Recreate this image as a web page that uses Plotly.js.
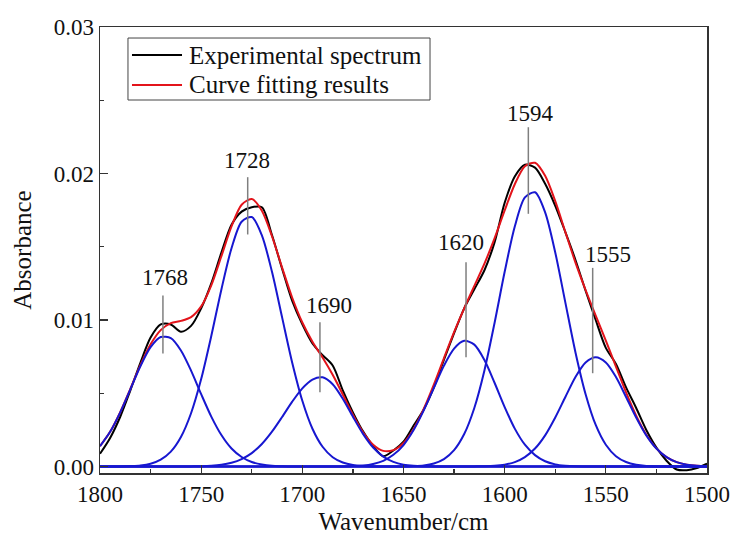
<!DOCTYPE html>
<html>
<head>
<meta charset="utf-8">
<script src="https://cdn.plot.ly/plotly-3.0.1.min.js"></script>
<style>html,body{margin:0;padding:0;background:#fff;}#chart{width:735px;height:539px;}</style>
</head>
<body>
<div id="chart"></div>
<script>
// Wavenumber grid (cm-1)
const wavenumber = [1800,1795,1790,1785,1780,1775,1770,1765,1760,1755,1750,1745,1740,1735,1730,1725,1720,1715,1710,1705,1700,1695,1690,1685,1680,1675,1670,1665,1660,1655,1650,1645,1640,1635,1630,1625,1620,1615,1610,1605,1600,1595,1590,1585,1580,1575,1570,1565,1560,1555,1550,1545,1540,1535,1530,1525,1520,1515,1510,1505,1500];

// Experimental spectrum (black)
const experimental = [0.00087,0.00195,0.0034,0.0052,0.0071,0.0088,0.0097,0.0097,0.0092,0.0096,0.0108,0.0125,0.0146,0.0165,0.0174,0.0177,0.0177,0.0158,0.0135,0.0113,0.0097,0.0084,0.0076,0.0069,0.0052,0.0037,0.0024,0.0014,0.0007,0.0011,0.0017,0.0028,0.0039,0.0054,0.0073,0.0091,0.0108,0.0121,0.0134,0.0153,0.0180,0.0198,0.0206,0.0204,0.0193,0.0178,0.0160,0.0141,0.0120,0.0100,0.0081,0.0070,0.0054,0.0040,0.0025,0.0013,0.0004,-0.0002,-0.00025,-0.0001,0.0002];

// Curve fitting result (red)
const fitted = [0.00139,0.00237,0.00371,0.0053,0.00693,0.00834,0.00931,0.00979,0.00994,0.0102,0.01093,0.01237,0.01436,0.01639,0.01787,0.01826,0.01746,0.01572,0.01358,0.01152,0.00983,0.00852,0.00744,0.00626,0.00492,0.00354,0.00234,0.00149,0.00107,0.00112,0.00161,0.00257,0.00393,0.00559,0.0074,0.00917,0.0108,0.01233,0.01385,0.01557,0.01748,0.01927,0.0205,0.02073,0.01984,0.01811,0.016,0.01392,0.01205,0.0103,0.00859,0.00682,0.00506,0.00347,0.00217,0.00124,0.00064,0.0003,0.00013,0.00005,0.00002];

// Component bands (blue)
const band1768 = [0.00139,0.00237,0.0037,0.00527,0.00686,0.00815,0.00884,0.00876,0.00792,0.00655,0.00494,0.00341,0.00215,0.00123,0.00065,0.00031,0.00014,0.00005,0.00002,0,0,0,0,0,0,0,0,0,0,0,0,0,0,0,0,0,0,0,0,0,0,0,0,0,0,0,0,0,0,0,0,0,0,0,0,0,0,0,0,0,0];
const band1728 = [0,0,0.00001,0.00003,0.00007,0.00019,0.00047,0.00102,0.00202,0.00364,0.00597,0.00891,0.01209,0.0149,0.01671,0.01703,0.01578,0.01329,0.01018,0.00709,0.00449,0.00258,0.00135,0.00064,0.00028,0.00011,0.00004,0.00001,0,0,0,0,0,0,0,0,0,0,0,0,0,0,0,0,0,0,0,0,0,0,0,0,0,0,0,0,0,0,0,0,0];
const band1690 = [0,0,0,0,0,0,0,0,0,0.00001,0.00002,0.00005,0.00012,0.00026,0.00051,0.00092,0.00154,0.00238,0.00338,0.00443,0.00534,0.00594,0.00609,0.00562,0.00463,0.0034,0.00223,0.0013,0.00068,0.00032,0.00013,0.00005,0.00002,0.00001,0,0,0,0,0,0,0,0,0,0,0,0,0,0,0,0,0,0,0,0,0,0,0,0,0,0,0];
const band1620 = [0,0,0,0,0,0,0,0,0,0,0,0,0,0,0,0,0,0,0,0,0,0,0,0,0.00001,0.00003,0.00007,0.00018,0.00039,0.0008,0.00147,0.00249,0.00383,0.00537,0.00689,0.00805,0.00858,0.00832,0.00727,0.00572,0.00406,0.00259,0.00149,0.00078,0.00036,0.00015,0.00006,0.00002,0.00001,0,0,0,0,0,0,0,0,0,0,0,0];
const band1594 = [0,0,0,0,0,0,0,0,0,0,0,0,0,0,0,0,0,0,0,0,0,0,0,0,0,0,0,0,0,0,0.00001,0.00003,0.00008,0.00021,0.00051,0.00112,0.00222,0.004,0.00656,0.0098,0.01329,0.01638,0.01837,0.01872,0.01735,0.01461,0.01119,0.00779,0.00494,0.00284,0.00149,0.00071,0.00031,0.00012,0.00004,0.00001,0,0,0,0,0];
const band1555 = [0,0,0,0,0,0,0,0,0,0,0,0,0,0,0,0,0,0,0,0,0,0,0,0,0,0,0,0,0,0,0,0,0,0,0,0,0,0.00001,0.00002,0.00005,0.00013,0.0003,0.00064,0.00123,0.00213,0.00335,0.00475,0.00611,0.0071,0.00746,0.0071,0.00611,0.00475,0.00335,0.00213,0.00123,0.00064,0.0003,0.00013,0.00005,0.00002];

// Peak labels
const peakLabels = ['1768','1728','1690','1620','1594','1555'];

// Tick labels
const xTickVals = [1800,1750,1700,1650,1600,1550,1500];
const yTickVals = [0.00,0.01,0.02,0.03];
const yTickText = ['0.00','0.01','0.02','0.03'];

const seriesNames = ['Experimental spectrum','Curve fitting results'];

// ---- layout helpers (positions of the label markers) ----
const labelLineX = [1768.9,1727.0,1691.3,1619.1,1588.3,1556.5];
const labelLineTop = [0.01167,0.01975,0.00985,0.01395,0.02316,0.01356];
const labelLineBottom = [0.00771,0.01584,0.00507,0.00746,0.01725,0.00637];
const labelTextX = [1768.1,1727.5,1686.8,1621.6,1587.2,1549.1];
const labelTextY = [0.0129,0.02089,0.01099,0.01531,0.0241,0.01447];

const FONT = 'Liberation Serif, Times New Roman, serif';
const BLUE = '#1717d0';
const RED = '#e3141b';
const BLACK = '#000000';

const bands = [band1768, band1728, band1690, band1620, band1594, band1555];
const traces = [];
traces.push({x: wavenumber, y: experimental, name: seriesNames[0], type: 'scatter', mode: 'lines',
  showlegend: false, line: {color: BLACK, width: 2, shape: 'spline', smoothing: 0.8}});
traces.push({x: wavenumber, y: fitted, name: seriesNames[1], type: 'scatter', mode: 'lines',
  showlegend: false, line: {color: RED, width: 2, shape: 'spline', smoothing: 0.8}});
bands.forEach((b, i) => {
  traces.push({x: wavenumber, y: b, name: 'Band ' + peakLabels[i], type: 'scatter', mode: 'lines',
    showlegend: false, line: {color: BLUE, width: 2, shape: 'spline', smoothing: 0.8}});
});

const shapes = peakLabels.map((t, i) => ({
  type: 'line', xref: 'x', yref: 'y',
  x0: labelLineX[i], x1: labelLineX[i], y0: labelLineBottom[i], y1: labelLineTop[i],
  line: {color: '#7f7f7f', width: 1.5}
}));
const annotations = peakLabels.map((t, i) => ({
  x: labelTextX[i], y: labelTextY[i], xref: 'x', yref: 'y', text: t, showarrow: false,
  xanchor: 'center', yanchor: 'middle', font: {family: FONT, size: 23, color: '#111'}
}));

// Legend box drawn in paper coordinates
const legendBox = {x0: 0.0461, x1: 0.5437, y0: 0.8363, y1: 0.9753};
const legendRowsY = [0.9372, 0.8700];
const legendColors = [BLACK, RED];
shapes.push({type: 'rect', xref: 'paper', yref: 'paper', x0: legendBox.x0, x1: legendBox.x1,
  y0: legendBox.y0, y1: legendBox.y1, line: {color: '#444', width: 1}, fillcolor: '#ffffff'});
seriesNames.forEach((n, i) => {
  shapes.push({type: 'line', xref: 'paper', yref: 'paper', x0: 0.0527, x1: 0.1351,
    y0: legendRowsY[i], y1: legendRowsY[i], line: {color: legendColors[i], width: 2}});
  annotations.push({x: 0.1433, y: legendRowsY[i], xref: 'paper', yref: 'paper', text: n,
    showarrow: false, xanchor: 'left', yanchor: 'middle',
    font: {family: FONT, size: 25, color: '#111'}});
});

const layout = {
  width: 735, height: 539,
  margin: {l: 100, r: 28, t: 27, b: 66, pad: 0},
  paper_bgcolor: '#ffffff', plot_bgcolor: '#ffffff',
  font: {family: FONT, size: 23, color: '#111'},
  showlegend: false,
  xaxis: {
    range: [1800, 1500], tickvals: xTickVals, ticktext: xTickVals.map(String),
    ticks: 'inside', ticklen: 8, tickwidth: 1.2, tickcolor: '#333',
    minor: {ticks: 'inside', ticklen: 4, dtick: 25, tick0: 1500, tickcolor: '#333', tickwidth: 1.2, showgrid: false},
    showline: true, linecolor: '#333', linewidth: 1.5, mirror: true,
    showgrid: false, zeroline: false,
    tickfont: {family: FONT, size: 23, color: '#111'},
    title: {text: 'Wavenumber/cm', font: {family: FONT, size: 25, color: '#111'}, standoff: 6}
  },
  yaxis: {
    range: [-0.00044, 0.03], tickvals: yTickVals, ticktext: yTickText,
    ticks: 'inside', ticklen: 8, tickwidth: 1.2, tickcolor: '#333',
    minor: {ticks: 'inside', ticklen: 4, dtick: 0.005, tick0: 0, tickcolor: '#333', tickwidth: 1.2, showgrid: false},
    showline: true, linecolor: '#333', linewidth: 1.5, mirror: true,
    showgrid: false, zeroline: false,
    tickfont: {family: FONT, size: 23, color: '#111'},
    title: {text: 'Absorbance', font: {family: FONT, size: 25, color: '#111'}, standoff: 15}
  },
  shapes: shapes,
  annotations: annotations
};

Plotly.newPlot('chart', traces, layout, {displayModeBar: false, staticPlot: true});
</script>
</body>
</html>
